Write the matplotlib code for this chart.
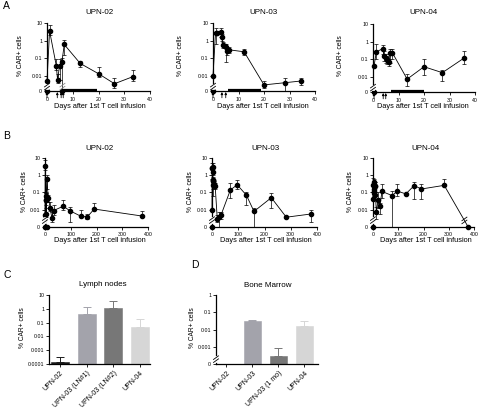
import numpy as np
import matplotlib
matplotlib.use('Agg')
import matplotlib.pyplot as plt
from matplotlib.lines import Line2D
from matplotlib.transforms import IdentityTransform

plt.rcParams['font.family'] = ['Liberation Sans', 'DejaVu Sans']

# ---------------- data ----------------
# time courses: day after 1st infusion, % CAR+ cells (mean), upper / lower error bounds
upn02_days = [0, 1, 3.6, 4.1, 4.9, 5.8, 6.7, 12.9, 20, 26.2, 33.5, 71, 97, 138, 164, 191, 378]
upn02_vals = [0.005, 3.5, 0.038, 0.006, 0.038, 0.06, 0.6, 0.05, 0.013, 0.0035, 0.009,
              0.016, 0.0087, 0.0043, 0.0038, 0.011, 0.0043]
upn02_hi = [0.005, 8, 0.09, 0.012, 0.09, 0.1, 1.1, 0.07, 0.03, 0.007, 0.02,
            0.035, 0.015, 0.01, 0.006, 0.025, 0.009]
upn02_lo = [0.005, 2.0, 0.02, 0.004, 0.006, 0, 0.15, 0.03, 0.008, 0.002, 0.005,
            0.01, 0.002, 0.004, 0.003, 0.01, 0.004]
upn02_zero_days = [0, 6]

upn03_days = [0, 1, 1.6, 3.1, 3.4, 3.9, 4.6, 5.2, 5.6, 6.2, 12.2, 20, 28.2, 34.5,
              70, 96, 131, 160, 226, 283, 378]
upn03_vals = [0.01, 2.7, 2.7, 3.0, 1.6, 0.55, 0.5, 0.45, 0.27, 0.3, 0.23, 0.003, 0.004, 0.005,
              0.14, 0.28, 0.07, 0.008, 0.05, 0.0037, 0.0057]
upn03_hi = [0.01, 5, 2.7, 5, 2.5, 0.8, 0.6, 0.6, 0.4, 0.45, 0.35, 0.005, 0.007, 0.007,
            0.35, 0.5, 0.1, 0.012, 0.09, 0.0037, 0.01]
upn03_lo = [0.01, 0.6, 2.7, 1.5, 1.0, 0.4, 0.4, 0.06, 0.15, 0.2, 0.15, 0.002, 0, 0.003,
            0.05, 0.15, 0.02, 0, 0.012, 0.0037, 0.002]
upn03_zero_days = [0]

upn04_days = [0.4, 1.3, 3.9, 4.3, 5, 5.6, 6.3, 6.8, 7.6, 13.4, 20, 27.2, 35.7,
              75, 97, 130, 163, 192, 282, 377]
upn04_vals = [0.04, 0.26, 0.4, 0.16, 0.12, 0.09, 0.07, 0.23, 0.23, 0.0073, 0.037, 0.017, 0.115,
              0.067, 0.12, 0.083, 0.25, 0.16, 0.26, 0]
upn04_hi = [0.04, 0.7, 0.6, 0.3, 0.2, 0.15, 0.1, 0.4, 0.4, 0.015, 0.1, 0.025, 0.3,
            0.12, 0.3, 0.083, 0.4, 0.3, 0.6, 0]
upn04_lo = [0.04, 0.1, 0.2, 0.08, 0.06, 0.05, 0.04, 0.06, 0.1, 0.003, 0.012, 0.006, 0.05,
            0, 0.06, 0.083, 0.04, 0.04, 0.26, 0]
upn04_zero_days = [0.4]

infusion_days = {'UPN-02': [0, 4, 5.5, 6.3], 'UPN-03': [0, 3.5, 5], 'UPN-04': [0.4, 4, 5]}
treat_period = {'UPN-02': (6.5, 19.5), 'UPN-03': (6, 19), 'UPN-04': (7, 20)}

ln_labels = ['UPN-02', 'UPN-03 (LN#1)', 'UPN-03 (LN#2)', 'UPN-04']
ln_vals = [0.00013, 0.42, 1.2, 0.052]
ln_hi = [0.0003, 1.4, 3.6, 0.19]
ln_colors = ['#1c1c1c', '#a3a3ab', '#777777', '#d6d6d6']

bm_labels = ['UPN-02', 'UPN-03', 'UPN-03 (1 mo)', 'UPN-04']
bm_vals = [0, 0.03, 0.0003, 0.016]
bm_hi = [0, 0.036, 0.0009, 0.033]
bm_colors = ['#1c1c1c', '#a3a3ab', '#777777', '#d6d6d6']

# ---------------- figure ----------------
W, H = 480, 411
fig = plt.figure(figsize=(W / 100, H / 100), dpi=100)


def px_axes(l, t, r, b):
    return fig.add_axes([l / W, 1 - b / H, (r - l) / W, (b - t) / H])


def ftext(x, y, s, **kw):
    kw.setdefault('ha', 'center')
    kw.setdefault('va', 'center')
    fig.text(x / W, 1 - y / H, s, **kw)


def tr(v, Z):
    v = np.asarray(v, dtype=float)
    return np.where(v > 0, np.log10(np.where(v > 0, v, 1.0)), Z)


def brk(ax, x, y, trans=None, axis_gap=True, col='k'):
    trans = trans if trans is not None else ax.transData
    X, Y = trans.transform((x, y))
    if axis_gap:
        fig.add_artist(Line2D([X, X], [Y - 1.8, Y + 1.8], color='white', lw=2.0,
                              transform=IdentityTransform(), zorder=5))
    for o in (-1.5, 1.5):
        fig.add_artist(Line2D([X - 2.5, X + 2.5], [Y + o - 1.8, Y + o + 1.8], color=col, lw=0.6,
                              transform=IdentityTransform(), zorder=6))


def style(ax):
    for s in ('top', 'right'):
        ax.spines[s].set_visible(False)
    for s in ('left', 'bottom'):
        ax.spines[s].set_linewidth(0.9)
    ax.tick_params(length=2, width=0.6, pad=1.5, labelsize=3.8)


def timecourse(ax, days, vals, hi, lo, zdays, Z, xmax, xticks, name, panelA):
    days = np.asarray(days, float)
    m = days <= xmax
    y = tr(vals, Z)
    yh = tr(hi, Z)
    yl = tr(lo, Z)
    cont = ax.errorbar(days[m], y[m], yerr=[(y - yl)[m], (yh - y)[m]], fmt='o-', color='k',
                       ms=3.0, lw=0.6, elinewidth=0.5, capsize=1.4, capthick=0.5, zorder=3)
    for a in cont.get_children():
        a.set_clip_on(False)
    zd = [d for d in zdays if d <= xmax]
    ax.plot(zd, [Z] * len(zd), 'o', color='k', ms=3.0, clip_on=False, zorder=4)
    ax.set_xlim(0, xmax)
    ax.set_ylim(Z, 1)
    ax.set_yticks([Z, -2, -1, 0, 1])
    ax.set_yticklabels(['0', '0.01', '0.1', '1', '10'])
    ax.set_xticks(xticks)
    style(ax)
    if panelA:
        ax.tick_params(axis='x', pad=2.0)
        bt = ax.get_xaxis_transform()
        for d in infusion_days[name]:
            ax.annotate('', xy=(d, -0.015), xytext=(d, -0.10), xycoords=bt, textcoords=bt,
                        arrowprops=dict(arrowstyle='-|>', lw=0.6, color='k',
                                        mutation_scale=3.2, shrinkA=0, shrinkB=0),
                        annotation_clip=False)
        t0, t1 = treat_period[name]
        ax.plot([t0, t1], [0.015, 0.015], color='k', lw=1.6, transform=bt,
                solid_capstyle='butt', clip_on=False)


Z_A = -2.87
Z_B = -3.0

# -------- panel A --------
ax_a = [px_axes(47, 23, 150, 91), px_axes(213, 23, 315, 91), px_axes(373, 24, 475, 92)]
# -------- panel B --------
ax_b = [px_axes(45, 158, 148, 227), px_axes(212, 158, 317, 227), px_axes(373, 158, 474, 227)]

series = [
    ('UPN-02', upn02_days, upn02_vals, upn02_hi, upn02_lo, upn02_zero_days),
    ('UPN-03', upn03_days, upn03_vals, upn03_hi, upn03_lo, upn03_zero_days),
    ('UPN-04', upn04_days, upn04_vals, upn04_hi, upn04_lo, upn04_zero_days),
]
a_title_x = [100, 263, 423]
a_ylab_x = [20, 181, 341]
b_title_x = [100, 266, 426]
b_ylab_x = [25, 191, 351]

for i, (name, d, v, h, l, z) in enumerate(series):
    ax = ax_a[i]
    timecourse(ax, d, v, h, l, z, Z_A, 40, [0, 10, 20, 30, 40], name, True)
    ftext(a_title_x[i], 13, name, fontsize=5.8)
    ftext(a_title_x[i], 106.5, 'Days after 1st T cell infusion', fontsize=5.3)
    ftext(a_ylab_x[i], 56, '% CAR+ cells', fontsize=4.8, rotation=90)

    bx = ax_b[i]
    timecourse(bx, d, v, h, l, z, Z_B, 400, [0, 100, 200, 300, 400], name, False)
    ftext(b_title_x[i], 148, name, fontsize=5.8)
    ftext(b_title_x[i], 241, 'Days after 1st T cell infusion', fontsize=5.3)
    ftext(b_ylab_x[i], 192, '% CAR+ cells', fontsize=4.8, rotation=90)

# axis breaks
for ax in ax_a:
    brk(ax, 0, -2.62, trans=ax.get_yaxis_transform())
brk(ax_a[0], 6, -2.62, axis_gap=False, col='#888888')
for ax in ax_b:
    brk(ax, 0, -2.6, trans=ax.get_yaxis_transform())
# break on the final UPN-04 segment (B)
x0, y0 = 282, np.log10(0.26)
xb = 362
yb = y0 + (xb - x0) / (377 - x0) * (Z_B - y0)
brk(ax_b[2], xb, yb, axis_gap=False)

# -------- panel C --------
ax_c = px_axes(49, 295, 150, 364)
xc = np.arange(len(ln_labels))
ax_c.set_yscale('log')
ax_c.bar(xc, np.array(ln_vals) - 1e-4, bottom=1e-4, width=0.68, color=ln_colors,
         edgecolor=ln_colors, lw=0.4)
for xi, v, hv, c in zip(xc, ln_vals, ln_hi, ln_colors):
    ax_c.errorbar([xi], [v], yerr=[[0], [hv - v]], fmt='none', ecolor=c, elinewidth=0.7,
                  capsize=2.6, capthick=0.7)
ax_c.set_ylim(1e-4, 10)
ax_c.set_xlim(-0.41, 3.37)
ax_c.set_yticks([1e-4, 1e-3, 1e-2, 1e-1, 1, 10])
ax_c.set_yticklabels(['0.0001', '0.001', '0.01', '0.1', '1', '10'])
ax_c.minorticks_off()
ax_c.set_xticks(xc)
ax_c.set_xticklabels(ln_labels, rotation=45, ha='right', rotation_mode='anchor')
style(ax_c)
ax_c.tick_params(axis='x', labelsize=5.0, pad=2)
ftext(103, 284, 'Lymph nodes', fontsize=5.8)
ftext(22, 328, '% CAR+ cells', fontsize=4.8, rotation=90)

# -------- panel D --------
Z_D = -4.0
ax_d = px_axes(216, 295, 318, 364)
xd = np.arange(len(bm_labels))
yd = tr(bm_vals, Z_D)
yhd = tr(bm_hi, Z_D)
ax_d.bar(xd, yd - Z_D, bottom=Z_D, width=0.68, color=bm_colors, edgecolor=bm_colors, lw=0.4)
for xi, v, hv, c in zip(xd, yd, yhd, bm_colors):
    if hv > v:
        ax_d.errorbar([xi], [v], yerr=[[0], [hv - v]], fmt='none', ecolor=c, elinewidth=0.7,
                      capsize=2.6, capthick=0.7)
ax_d.set_ylim(Z_D, 0)
ax_d.set_xlim(-0.4, 3.52)
ax_d.set_yticks([Z_D, -3, -2, -1, 0])
ax_d.set_yticklabels(['0', '0.001', '0.01', '0.1', '1'])
ax_d.set_xticks(xd)
ax_d.set_xticklabels(bm_labels, rotation=45, ha='right', rotation_mode='anchor')
style(ax_d)
ax_d.tick_params(axis='x', labelsize=5.0, pad=2)
brk(ax_d, 0, -3.72, trans=ax_d.get_yaxis_transform())
ftext(268, 285, 'Bone Marrow', fontsize=5.8)
ftext(193, 328, '% CAR+ cells', fontsize=4.8, rotation=90)

# panel letters
ftext(3, 6, 'A', fontsize=7.5, ha='left')
ftext(3, 136, 'B', fontsize=7.5, ha='left')
ftext(3, 275, 'C', fontsize=7.5, ha='left')
ftext(191, 265, 'D', fontsize=7.5, ha='left')

fig.savefig('out.png', dpi=100)
